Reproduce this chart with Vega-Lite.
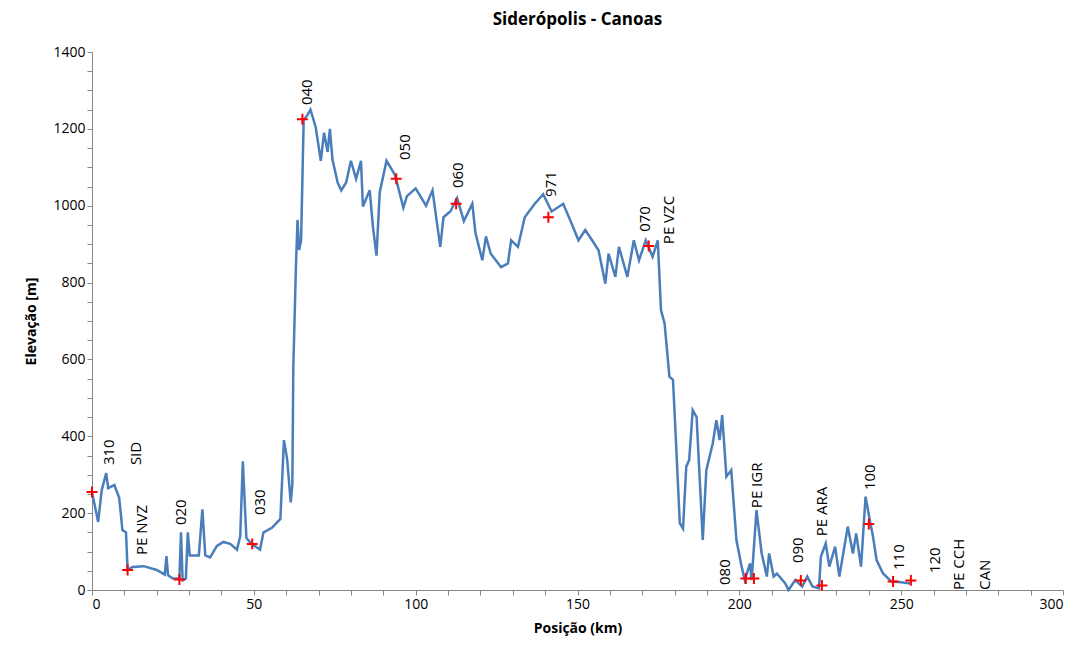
{
  "$schema": "https://vega.github.io/schema/vega-lite/v6.json",
  "width": 971,
  "height": 538,
  "autosize": "none",
  "padding": {"left": 92, "top": 52, "right": 14, "bottom": 67},
  "title": {"text": "Siderópolis - Canoas", "font": "Open Sans", "fontSize": 17, "fontWeight": "bold", "offset": 16, "color": "#000"},
  "datasets": {
    "profile": [
      {"km": 0, "elev": 255}, {"km": 1.9, "elev": 177}, {"km": 3, "elev": 260}, {"km": 4.4, "elev": 304}, {"km": 5, "elev": 265},
      {"km": 6.9, "elev": 273}, {"km": 8.4, "elev": 240}, {"km": 9.4, "elev": 156}, {"km": 10.5, "elev": 150}, {"km": 11, "elev": 52},
      {"km": 12.5, "elev": 60}, {"km": 16, "elev": 62}, {"km": 20, "elev": 52}, {"km": 22.5, "elev": 40}, {"km": 23, "elev": 88},
      {"km": 23.5, "elev": 38}, {"km": 25, "elev": 30}, {"km": 27, "elev": 30}, {"km": 27.5, "elev": 150}, {"km": 28, "elev": 25},
      {"km": 29, "elev": 30}, {"km": 29.6, "elev": 150}, {"km": 30.2, "elev": 90}, {"km": 33, "elev": 90}, {"km": 34.1, "elev": 210},
      {"km": 35, "elev": 90}, {"km": 36.5, "elev": 85}, {"km": 38.6, "elev": 115}, {"km": 40.6, "elev": 125}, {"km": 42.7, "elev": 120},
      {"km": 44.8, "elev": 105}, {"km": 45.8, "elev": 140}, {"km": 46.6, "elev": 335}, {"km": 47.7, "elev": 135}, {"km": 49.3, "elev": 120},
      {"km": 51.9, "elev": 105}, {"km": 53, "elev": 150}, {"km": 55.6, "elev": 162}, {"km": 58.2, "elev": 185}, {"km": 59.3, "elev": 390},
      {"km": 60.3, "elev": 340}, {"km": 61.4, "elev": 228}, {"km": 61.9, "elev": 275}, {"km": 62.2, "elev": 580}, {"km": 63, "elev": 840},
      {"km": 63.5, "elev": 963}, {"km": 64, "elev": 885}, {"km": 64.6, "elev": 910}, {"km": 65.4, "elev": 1223}, {"km": 66.5, "elev": 1235},
      {"km": 67.5, "elev": 1250}, {"km": 69.1, "elev": 1205}, {"km": 70.7, "elev": 1117}, {"km": 71.7, "elev": 1190}, {"km": 72.8, "elev": 1140},
      {"km": 73.5, "elev": 1200}, {"km": 74.3, "elev": 1120}, {"km": 75.9, "elev": 1060}, {"km": 77, "elev": 1040}, {"km": 78.5, "elev": 1060},
      {"km": 80, "elev": 1117}, {"km": 81.6, "elev": 1070}, {"km": 83.1, "elev": 1117}, {"km": 83.7, "elev": 998}, {"km": 85.8, "elev": 1040},
      {"km": 86.8, "elev": 945}, {"km": 87.9, "elev": 870}, {"km": 88.9, "elev": 1035}, {"km": 91, "elev": 1117}, {"km": 93.6, "elev": 1080},
      {"km": 96.2, "elev": 995}, {"km": 97.3, "elev": 1025}, {"km": 100, "elev": 1045}, {"km": 103.2, "elev": 1000}, {"km": 105.2, "elev": 1040},
      {"km": 107.6, "elev": 893}, {"km": 108.6, "elev": 970}, {"km": 110.7, "elev": 985}, {"km": 112.8, "elev": 1020}, {"km": 114.9, "elev": 960},
      {"km": 117.5, "elev": 1005}, {"km": 118.5, "elev": 928}, {"km": 120.6, "elev": 858}, {"km": 121.7, "elev": 920}, {"km": 123.2, "elev": 875},
      {"km": 126.4, "elev": 840}, {"km": 128.5, "elev": 850}, {"km": 129.5, "elev": 910}, {"km": 131.6, "elev": 893}, {"km": 133.7, "elev": 970},
      {"km": 136.8, "elev": 1005}, {"km": 139.4, "elev": 1030}, {"km": 142, "elev": 985}, {"km": 145.6, "elev": 1005}, {"km": 148.2, "elev": 953},
      {"km": 150.3, "elev": 910}, {"km": 152.4, "elev": 937}, {"km": 154.5, "elev": 910}, {"km": 156.5, "elev": 884}, {"km": 158.6, "elev": 797},
      {"km": 159.6, "elev": 875}, {"km": 161.7, "elev": 815}, {"km": 162.8, "elev": 893}, {"km": 165.4, "elev": 815}, {"km": 167.4, "elev": 910},
      {"km": 169, "elev": 858}, {"km": 171.1, "elev": 910}, {"km": 173.2, "elev": 867}, {"km": 174.8, "elev": 910}, {"km": 175.8, "elev": 728},
      {"km": 176.9, "elev": 694}, {"km": 178.4, "elev": 555}, {"km": 179.5, "elev": 547}, {"km": 180.5, "elev": 373}, {"km": 181.6, "elev": 174},
      {"km": 182.6, "elev": 160}, {"km": 183.6, "elev": 321}, {"km": 184.5, "elev": 338}, {"km": 185.6, "elev": 468}, {"km": 186.8, "elev": 450},
      {"km": 188.7, "elev": 130}, {"km": 189.8, "elev": 312}, {"km": 191.8, "elev": 382}, {"km": 192.9, "elev": 442}, {"km": 193.9, "elev": 390},
      {"km": 194.7, "elev": 455}, {"km": 196, "elev": 295}, {"km": 197.5, "elev": 312}, {"km": 199.1, "elev": 130}, {"km": 200.7, "elev": 61},
      {"km": 201.7, "elev": 26}, {"km": 203.3, "elev": 69}, {"km": 203.8, "elev": 26}, {"km": 205.3, "elev": 208}, {"km": 206.9, "elev": 95},
      {"km": 208.5, "elev": 35}, {"km": 209.2, "elev": 95}, {"km": 210.6, "elev": 35}, {"km": 211.6, "elev": 43}, {"km": 214.2, "elev": 17},
      {"km": 215.2, "elev": 0}, {"km": 217.3, "elev": 26}, {"km": 219.4, "elev": 9}, {"km": 221, "elev": 35}, {"km": 222.6, "elev": 9},
      {"km": 224.6, "elev": 4}, {"km": 225.2, "elev": 87}, {"km": 226.7, "elev": 121}, {"km": 227.8, "elev": 61}, {"km": 229.6, "elev": 113},
      {"km": 230.9, "elev": 35}, {"km": 233.5, "elev": 165}, {"km": 235.1, "elev": 95}, {"km": 236.1, "elev": 147}, {"km": 237.6, "elev": 61},
      {"km": 239, "elev": 243}, {"km": 240.3, "elev": 182}, {"km": 241.3, "elev": 139}, {"km": 242.4, "elev": 78}, {"km": 244.4, "elev": 43},
      {"km": 247, "elev": 22}, {"km": 250, "elev": 20}, {"km": 252.8, "elev": 17}
    ],
    "stations": [
      {"km": 0, "elev": 255}, {"km": 11, "elev": 52}, {"km": 27, "elev": 27}, {"km": 49.5, "elev": 120},
      {"km": 65, "elev": 1225}, {"km": 94, "elev": 1070}, {"km": 112.5, "elev": 1005}, {"km": 141, "elev": 970},
      {"km": 172, "elev": 895}, {"km": 202, "elev": 30}, {"km": 204.5, "elev": 30}, {"km": 219, "elev": 25},
      {"km": 225.5, "elev": 12}, {"km": 240, "elev": 172}, {"km": 247.5, "elev": 22}, {"km": 253, "elev": 25}
    ],
    "labels": [
      {"km": 5.3, "elev": 325, "name": "310"}, {"km": 13.7, "elev": 325, "name": "SID"},
      {"km": 15.3, "elev": 91, "name": "PE NVZ"}, {"km": 27.5, "elev": 169, "name": "020"},
      {"km": 52, "elev": 195, "name": "030"}, {"km": 66.3, "elev": 1262, "name": "040"},
      {"km": 96.7, "elev": 1119, "name": "050"}, {"km": 113.2, "elev": 1046, "name": "060"},
      {"km": 141.7, "elev": 1023, "name": "971"}, {"km": 171, "elev": 932, "name": "070"},
      {"km": 178.3, "elev": 900, "name": "PE VZC"}, {"km": 195.5, "elev": 13, "name": "080"},
      {"km": 205.5, "elev": 213, "name": "PE IGR"}, {"km": 218, "elev": 70, "name": "090"},
      {"km": 225.5, "elev": 140, "name": "PE ARA"}, {"km": 240.5, "elev": 260, "name": "100"},
      {"km": 249.3, "elev": 52, "name": "110"}, {"km": 260.5, "elev": 44, "name": "120"},
      {"km": 268, "elev": 0, "name": "PE CCH"}, {"km": 276, "elev": 0, "name": "CAN"}
    ]
  },
  "encoding": {
    "x": {
      "field": "km", "type": "quantitative",
      "scale": {"domain": [0, 300], "nice": false},
      "axis": {
        "title": "Posição (km)", "values": [0,10,20,30,40,50,60,70,80,90,100,110,120,130,140,150,160,170,180,190,200,210,220,230,240,250,260,270,280,290,300],
        "labelExpr": "datum.value % 50 == 0 ? datum.label : ''", "grid": false,
        "domainColor": "#868686", "tickColor": "#868686", "tickSize": 5,
        "labelFont": "Open Sans", "labelFontSize": 14, "labelColor": "#000",
        "titleFont": "Open Sans", "titleFontSize": 14, "titleFontWeight": "bold", "titleColor": "#000", "titlePadding": 10
      }
    },
    "y": {
      "field": "elev", "type": "quantitative",
      "scale": {"domain": [0, 1400], "nice": false},
      "axis": {
        "title": "Elevação [m]", "values": [0,50,100,150,200,250,300,350,400,450,500,550,600,650,700,750,800,850,900,950,1000,1050,1100,1150,1200,1250,1300,1350,1400],
        "labelExpr": "datum.value % 200 == 0 ? datum.label : ''", "grid": false, "format": "d",
        "domainColor": "#868686", "tickColor": "#868686", "tickSize": 5,
        "labelFont": "Open Sans", "labelFontSize": 14, "labelColor": "#000",
        "titleFont": "Open Sans", "titleFontSize": 14, "titleFontWeight": "bold", "titleColor": "#000", "titlePadding": 14
      }
    }
  },
  "layer": [
    {
      "data": {"name": "profile"},
      "mark": {"type": "line", "color": "#4a7ebb", "strokeWidth": 2.5},
      "encoding": {}
    },
    {
      "data": {"name": "stations"},
      "mark": {"type": "point", "shape": "M-1,0L1,0M0,-1L0,1", "stroke": "#ff0000", "size": 120, "strokeWidth": 2, "filled": false, "opacity": 1},
      "encoding": {}
    },
    {
      "data": {"name": "labels"},
      "mark": {"type": "text", "angle": 270, "align": "left", "baseline": "middle", "font": "Open Sans", "fontSize": 15, "color": "#000"},
      "encoding": {"text": {"field": "name"}}
    }
  ],
  "config": {"view": {"stroke": null}}
}
